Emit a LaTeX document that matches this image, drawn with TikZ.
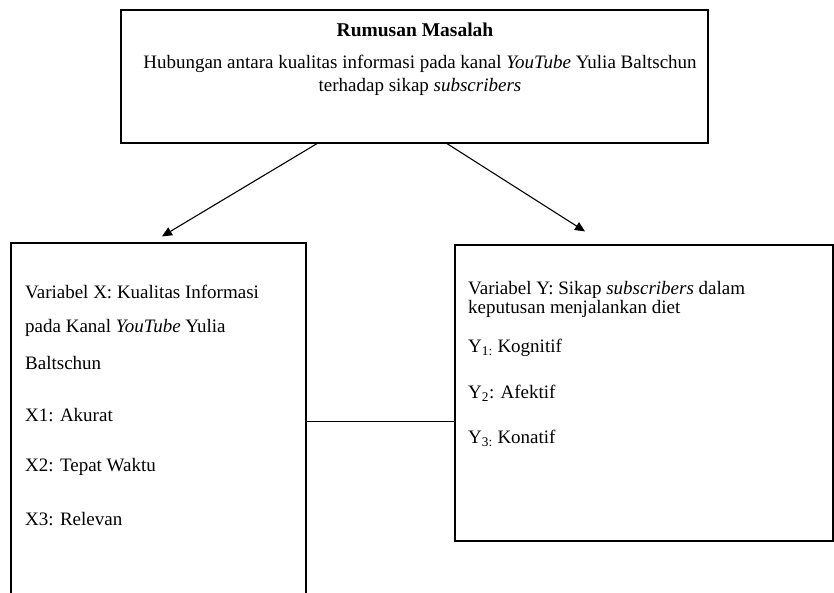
\documentclass[tikz,border=0pt]{standalone}
\usepackage{fontspec}
\setmainfont{Liberation Serif}
\usetikzlibrary{positioning}
\usetikzlibrary{arrows.meta}

\begin{document}
\begin{tikzpicture}[x=1pt, y=-1pt,
    kotak/.style={draw, line width=1.2pt, inner sep=0pt},
    teks/.style={anchor=west, inner sep=0pt, font=\fontsize{19}{20}\selectfont},
    panah/.style={-{Triangle[length=10pt, width=9pt]}, line width=1.1pt}]
  \useasboundingbox (0, 0) rectangle (834, 592);

  \node[kotak, minimum width=587pt, minimum height=133pt] (masalah) at (414.5, 76.5) {};
  \node[kotak, minimum width=295pt, minimum height=357pt] (varx) at (158.5, 421.5) {};
  \node[kotak, minimum width=378pt, minimum height=296pt] (vary) at (644, 393) {};

  \node[teks, anchor=center, font=\fontsize{19.5}{20}\selectfont\bfseries] (judul) at (415, 30) {Rumusan Masalah};
  \node[teks, anchor=center, align=center, font=\fontsize{19}{23}\selectfont] (rumusan) at (420, 75)
    {Hubungan antara kualitas informasi pada kanal \textit{YouTube} Yulia Baltschun\\ terhadap sikap \textit{subscribers}};

  \node[teks] (xjudula) at (25, 292) {Variabel X: Kualitas Informasi};
  \node[teks] (xjudulb) at (25, 328) {pada Kanal \textit{YouTube} Yulia};
  \node[teks] (xjudulc) at (25, 363) {Baltschun};
  \node[teks] (xsatu) at (25, 415) {X1: Akurat};
  \node[teks] (xdua) at (25, 467) {X2: Tepat Waktu};
  \node[teks] (xtiga) at (25, 519) {X3: Relevan};

  \node[teks] (yjudula) at (468, 290) {Variabel Y: Sikap \textit{subscribers} dalam};
  \node[teks] (yjudulb) at (468, 309) {keputusan menjalankan diet};
  \node[teks] (ysatu) at (468, 348) {Y\textsubscript{1:} Kognitif};
  \node[teks] (ydua) at (468, 393) {Y\textsubscript{2}: Afektif};
  \node[teks] (ytiga) at (468, 438) {Y\textsubscript{3:} Konatif};

  \draw[panah] ([xshift=-97.5pt]masalah.south) -- ([xshift=3.5pt, yshift=6pt]varx.north);
  \draw[panah] ([xshift=32.5pt]masalah.south) -- ([xshift=-59pt, yshift=13pt]vary.north);
  \draw[line width=1.1pt] (varx.east) -- (vary.west |- varx.east);
\end{tikzpicture}
\end{document}
